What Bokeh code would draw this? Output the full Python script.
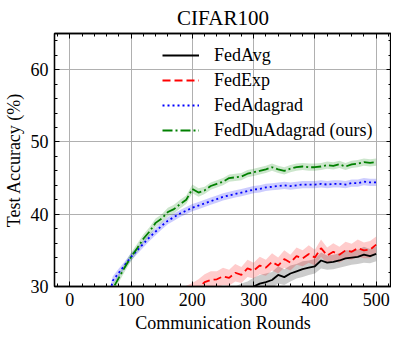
from bokeh.plotting import figure
from bokeh.models import (SingleIntervalTicker, LinearAxis, Range1d, Legend, LegendItem,
                          CustomJSTickFormatter, ColumnDataSource)
from bokeh.embed import file_html
from bokeh.resources import INLINE

rounds = list(range(0, 510, 10))

fedavg = [1.0, 2.5, 4.5, 6.5, 8.5, 10.3, 12.0, 13.6, 15.0, 16.3, 17.5, 18.6, 19.6, 20.5, 21.4, 22.2,
          23.0, 23.7, 24.4, 25.0, 25.6, 26.1, 26.6, 27.1, 27.5, 27.9, 28.3, 28.7, 29.1, 29.5, 30.0,
          30.4, 30.6, 30.9, 31.6, 31.3, 31.8, 32.1, 32.4, 32.6, 32.8, 33.6, 33.3, 33.4, 33.6, 33.9,
          34.0, 34.1, 34.4, 34.2, 34.5]
fedavg_std = [0.3, 0.4, 0.5, 0.6, 0.7, 0.8, 0.9, 1.0, 1.0, 1.1, 1.1, 1.2, 1.2, 1.2, 1.3, 1.3,
              1.3, 1.3, 1.3, 1.3, 1.3, 1.3, 1.3, 1.3, 1.3, 1.3, 1.3, 1.3, 1.3, 1.2, 1.2,
              1.2, 1.2, 1.1, 1.2, 1.1, 1.1, 1.0, 1.1, 1.0, 1.0, 1.1, 1.0, 1.0, 1.0, 1.1,
              1.0, 1.0, 1.1, 1.0, 1.0]

fedexp = [1.0, 4.0, 8.0, 11.0, 14.0, 16.5, 18.5, 20.0, 21.5, 22.7, 23.7, 24.6, 25.4, 26.1, 26.7, 27.2,
          27.7, 28.2, 28.6, 29.0, 29.4, 29.8, 30.6, 30.9, 31.0, 31.4, 31.2, 31.9, 31.6, 32.5, 32.2,
          32.9, 32.6, 33.4, 32.9, 33.8, 33.3, 34.2, 33.9, 34.5, 34.0, 35.3, 34.3, 34.8, 34.4, 35.0,
          34.8, 35.3, 35.0, 35.1, 35.8]
fedexp_std = [0.3, 0.5, 0.7, 0.8, 0.9, 1.0, 1.0, 1.1, 1.1, 1.1, 1.1, 1.1, 1.1, 1.1, 1.1, 1.1,
              1.1, 1.1, 1.1, 1.1, 1.1, 1.2, 1.1, 1.2, 1.1, 1.2, 1.1, 1.2, 1.1, 1.2, 1.1,
              1.2, 1.1, 1.2, 1.1, 1.2, 1.1, 1.2, 1.1, 1.2, 1.1, 1.2, 1.1, 1.2, 1.1, 1.2,
              1.1, 1.2, 1.1, 1.2, 1.1]

fedadagrad = [1.0, 3.0, 6.2, 10.5, 15.5, 21.0, 27.0, 30.8, 31.9, 33.0, 34.1, 35.0, 35.9, 36.8, 37.6,
              38.4, 39.1, 39.6, 40.1, 40.5, 40.9, 41.2, 41.5, 41.8, 42.1, 42.4, 42.6, 42.8, 43.0,
              43.2, 43.4, 43.5, 43.7, 43.8, 43.9, 44.0, 43.9, 44.0, 44.1, 44.1, 44.1, 44.2, 44.1,
              44.2, 44.2, 44.1, 44.3, 44.3, 44.5, 44.4, 44.4]
fedadagrad_std = [0.2, 0.3, 0.4, 0.5, 0.6, 0.6, 0.6, 0.6, 0.6, 0.5, 0.5, 0.5, 0.5, 0.5, 0.5,
                  0.5, 0.5, 0.5, 0.5, 0.5, 0.5, 0.5, 0.5, 0.5, 0.5, 0.5, 0.5, 0.5, 0.5,
                  0.5, 0.5, 0.5, 0.5, 0.5, 0.5, 0.5, 0.5, 0.5, 0.5, 0.5, 0.5, 0.5, 0.5,
                  0.5, 0.5, 0.5, 0.5, 0.5, 0.5, 0.5, 0.5]

fedduadagrad = [1.0, 3.2, 6.5, 10.8, 15.6, 20.4, 25.3, 29.7, 31.2, 32.7, 34.1, 35.3, 36.6, 37.6,
                38.8, 39.4, 40.3, 40.7, 41.4, 42.0, 43.5, 43.0, 43.3, 43.9, 44.2, 44.5, 45.0,
                45.1, 45.2, 45.6, 45.8, 46.0, 46.2, 46.5, 46.2, 46.0, 46.3, 46.5, 46.6, 46.5,
                46.5, 46.6, 46.8, 46.7, 46.9, 46.6, 46.9, 47.0, 47.2, 47.1, 47.2]
fedduadagrad_std = [0.2, 0.3, 0.4, 0.5, 0.6, 0.6, 0.6, 0.6, 0.6, 0.6, 0.6, 0.6, 0.6, 0.6,
                    0.6, 0.6, 0.6, 0.6, 0.6, 0.6, 0.6, 0.6, 0.5, 0.5, 0.5, 0.5, 0.5,
                    0.5, 0.5, 0.5, 0.5, 0.5, 0.5, 0.5, 0.5, 0.5, 0.5, 0.5, 0.5, 0.5,
                    0.5, 0.5, 0.5, 0.5, 0.5, 0.5, 0.5, 0.5, 0.5, 0.5, 0.5]

series = [
    ("FedAvg", fedavg, fedavg_std, "black", None),
    ("FedExp", fedexp, fedexp_std, "red", "8 4"),
    ("FedAdagrad", fedadagrad, fedadagrad_std, "blue", "2 3"),
    ("FedDuAdagrad (ours)", fedduadagrad, fedduadagrad_std, "green", "10 3 2 3"),
]

FONT = "Liberation Serif"

p = figure(frame_width=337, frame_height=253,
           x_range=Range1d(-25, 525), y_range=Range1d(30, 65),
           output_backend="svg", toolbar_location=None, title="CIFAR100",
           min_border_left=0, min_border_right=0, min_border_top=0, min_border_bottom=0)

p.title.align = "center"
p.title.text_font = FONT
p.title.text_font_size = "21px"
p.title.text_font_style = "normal"
p.title.text_color = "black"
p.title.standoff = 7

p.outline_line_color = "black"
p.outline_line_width = 1.3

xt = SingleIntervalTicker(interval=100, num_minor_ticks=5)
yt = SingleIntervalTicker(interval=10, num_minor_ticks=5)

def style_axis(ax, ticker):
    ax.ticker = ticker
    ax.axis_line_color = "black"
    ax.axis_line_width = 1.3
    ax.major_tick_in = 5
    ax.major_tick_out = 0
    ax.minor_tick_in = 3
    ax.minor_tick_out = 0
    ax.major_tick_line_width = 1
    ax.minor_tick_line_width = 1
    ax.major_tick_line_color = "black"
    ax.minor_tick_line_color = "black"
    ax.major_label_text_font = FONT
    ax.major_label_text_font_size = "18px"
    ax.major_label_text_color = "black"
    ax.axis_label_text_font = FONT
    ax.axis_label_text_font_size = "18px"
    ax.axis_label_text_font_style = "normal"
    ax.axis_label_text_color = "black"

style_axis(p.xaxis[0], xt)
style_axis(p.yaxis[0], yt)
p.xaxis[0].axis_label = "Communication Rounds"
p.yaxis[0].axis_label = "Test Accuracy (%)"
p.xaxis[0].major_label_standoff = 6
p.xaxis[0].axis_label_standoff = 4
p.yaxis[0].major_label_standoff = 6
p.yaxis[0].axis_label_standoff = 4

empty = CustomJSTickFormatter(code="return ''")
top = LinearAxis()
style_axis(top, xt)
top.formatter = empty
top.major_label_standoff = 0
top.major_label_text_font_size = "0px"
right = LinearAxis()
style_axis(right, yt)
right.formatter = empty
right.major_label_standoff = 0
right.major_label_text_font_size = "0px"
p.add_layout(top, "above")
p.add_layout(right, "right")

p.xgrid.ticker = xt
p.ygrid.ticker = yt
p.xgrid.grid_line_color = "#b0b0b0"
p.ygrid.grid_line_color = "#b0b0b0"
p.xgrid.grid_line_width = 1
p.ygrid.grid_line_width = 1

items = []
for name, mean, std, color, dash in series:
    lo = [m - s for m, s in zip(mean, std)]
    hi = [m + s for m, s in zip(mean, std)]
    src = ColumnDataSource(dict(x=rounds, y=mean, lo=lo, hi=hi))
    p.varea(x="x", y1="lo", y2="hi", source=src, fill_color=color, fill_alpha=0.2)

for name, mean, std, color, dash in series:
    src = ColumnDataSource(dict(x=rounds, y=mean))
    kw = dict(line_color=color, line_width=1.8)
    if dash:
        kw["line_dash"] = dash
    r = p.line(x="x", y="y", source=src, **kw)
    items.append(LegendItem(label=name, renderers=[r]))

legend = Legend(items=items, location=(98, 135))
legend.background_fill_alpha = 0
legend.border_line_alpha = 0
legend.label_text_font = FONT
legend.label_text_font_size = "18px"
legend.label_text_color = "black"
legend.glyph_width = 37
legend.glyph_height = 22
legend.label_height = 22
legend.label_standoff = 15
legend.spacing = 3
legend.padding = 10
p.add_layout(legend, "center")

open("out.html", "w").write(file_html(p, INLINE))
